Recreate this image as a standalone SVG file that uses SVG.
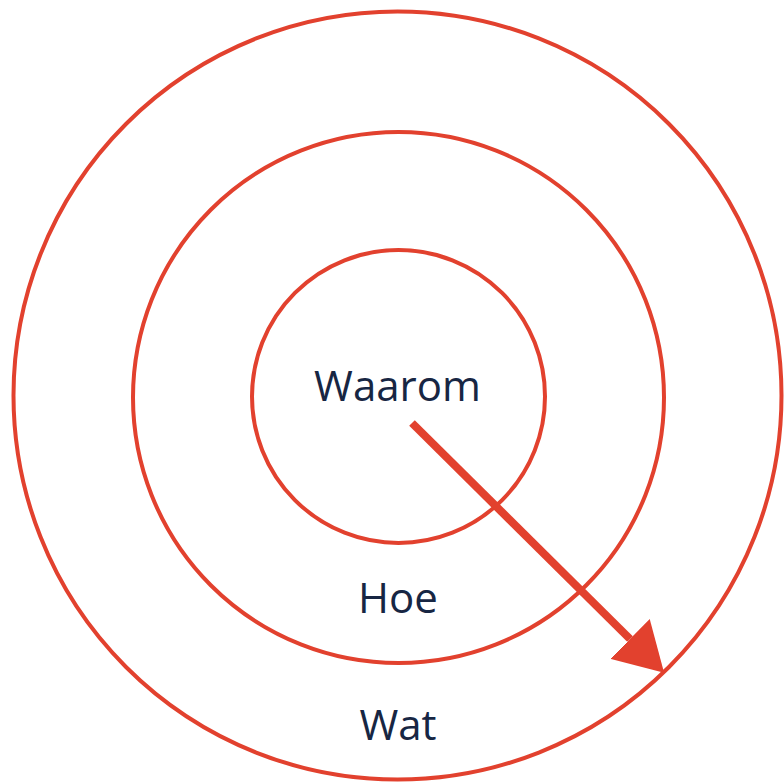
<svg xmlns="http://www.w3.org/2000/svg" width="784" height="782" viewBox="0 0 784 782">
  <style>
    .ring { fill: none; stroke: #e2412e; stroke-width: 4; }
    .label { font-family: "Open Sans", "Noto Sans", sans-serif; font-size: 42px; fill: #172643; text-anchor: middle; }
    .conn { stroke: #e2412e; stroke-width: 8; fill: none; }
  </style>
  <defs>
    <marker id="arrowhead" markerUnits="userSpaceOnUse" markerWidth="50" markerHeight="56" refX="0" refY="28" orient="auto">
      <path d="M0,0 L48,28 L0,56 z" fill="#e2412e"/>
    </marker>
  </defs>
  <rect width="784" height="782" fill="#ffffff"/>
  <g id="wat">
    <circle class="ring" cx="397.5" cy="395.5" r="384"/>
    <text class="label" x="398" y="740">Wat</text>
  </g>
  <g id="hoe">
    <circle class="ring" cx="398.5" cy="397.5" r="265.5"/>
    <text class="label" x="398" y="613">Hoe</text>
  </g>
  <g id="waarom">
    <circle class="ring" cx="398.5" cy="396.5" r="146.5"/>
    <text class="label" x="397.5" y="400.5">Waarom</text>
  </g>
  <g id="connectors">
    <line class="conn" x1="412" y1="423" x2="630" y2="639" marker-end="url(#arrowhead)"/>
  </g>
</svg>
